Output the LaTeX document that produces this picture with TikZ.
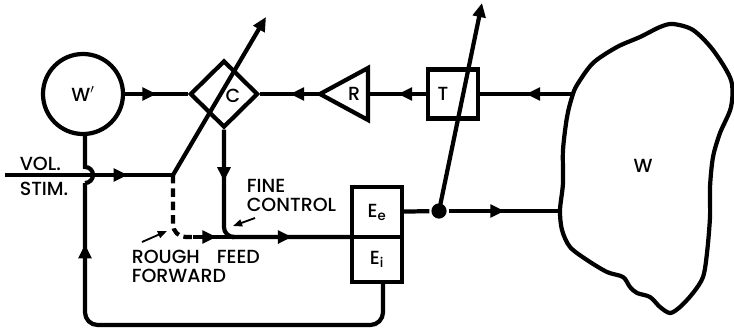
\documentclass[tikz,border=0pt]{standalone}
\usepackage{fontspec}
\setmainfont{Poppins Medium}
\usetikzlibrary{positioning,shapes.geometric,arrows.meta,decorations.markings}
\tikzset{
  midarrow/.style={postaction={decorate},decoration={markings,mark=at position #1 with {\arrow{Triangle[length=10pt,width=9pt]}}}},
  midarrow/.default=0.5,
  ebox/.style={draw,rectangle,inner sep=0pt,outer sep=0pt,minimum width=1.25cm},
  pointer/.style={line width=1.3pt,-{Triangle[length=6.5pt,width=5pt]}},
}
\begin{document}
\begin{tikzpicture}[x=0.025cm,y=-0.025cm,line width=3pt,every node/.style={font=\fontsize{13.5}{15}\selectfont}]
\useasboundingbox (0,0) rectangle (734,331);
\node[draw,circle,minimum size=2cm,inner sep=0pt] (wp) at (83,94) {W$'$};
\node[draw,diamond,minimum width=1.7cm,minimum height=1.675cm,inner sep=0pt] (c) at (224,94) {};
\node (clab) at (233,96) {C};
\coordinate (rtip) at (320,94);
\coordinate (rback) at (368,94);
\draw (rtip) -- (368,68) -- (368,120) -- cycle;
\node (rlab) at (354,94) {R};
\node[ebox,minimum height=1.225cm] (t) at (453,94) {};
\node (tlab) at (443,94) {T};
\node[ebox,minimum height=1.25cm] (ee) at (377,212) {E$_{\mathrm{e}}$};
\node[ebox,minimum height=1.125cm,below=0pt of ee] (ei) {E$_{\mathrm{i}}$};
\node[circle,fill,inner sep=0pt,minimum size=0.38cm] (dot) at (439,211) {};
\draw plot[smooth cycle] coordinates {(577,85) (593,63) (617,47) (640,37) (660,27) (673,24) (693,30) (713,50) (731,80) (731,107) (720,133) (713,157) (710,187) (710,217) (707,253) (703,277) (693,293) (680,307) (670,313) (660,307) (650,297) (637,293) (630,287) (623,277) (607,272) (587,260) (570,247) (562,230) (560,210) (563,183) (563,150) (567,117) (572,97)};
\node (w) at (643,166) {W};
\coordinate (wtop) at (574,94);
\coordinate (wbot) at (560,211);
\coordinate (vin) at (5,175);
\coordinate (fork) at (173,175);
\coordinate (cout) at (266,17);
\coordinate (tout) at (482,3);
\coordinate (rfj) at (193,237);
\coordinate (join) at (232,237);
\coordinate (fbl) at (85,325);
\coordinate (hop) at (85,183);
\foreach \a/\b in {wp/c,rtip/c,t/rback,wtop/t,dot/wbot}
  \draw[midarrow] (\a) -- (\b);
\draw (ee) -- (dot);
\draw[-{Triangle[length=10pt,width=9pt]}] (dot.center) -- (tout);
\draw[midarrow=0.73] (vin) -- (fork);
\draw[-{Triangle[length=10pt,width=9pt]}] (fork) -- (cout);
\draw[dash pattern=on 6pt off 3.5pt,rounded corners=9pt] (fork) |- (rfj);
\draw[midarrow=0.6] (rfj) -- (join);
\draw[midarrow=0.45,rounded corners=7pt] (c.south) |- (join);
\draw[midarrow] (join) -- (ee.south west);
\draw[rounded corners=9pt,midarrow=0.87] ([xshift=0.15cm]ei.south) |- (fbl) -- (hop);
\draw (hop) arc[start angle=-90,end angle=90,radius=5.7pt] -- (wp.south -| hop);
\node[anchor=west] (vol) at (13,164) {VOL.};
\node[anchor=west] (stim) at (13,189) {STIM.};
\node[anchor=west] (fine) at (240,186) {FINE};
\node[anchor=west] (ctrl) at (240,205) {CONTROL};
\node[anchor=west] (rough) at (125,257) {ROUGH};
\node[anchor=west] (feed) at (210,257) {FEED};
\node[anchor=west] (fwd) at (125,276) {FORWARD};
\coordinate (fcs) at (255,218);
\coordinate (fct) at (233,226);
\coordinate (rfs) at (142,242);
\coordinate (rft) at (167,231);
\draw[pointer] (fcs) -- (fct);
\draw[pointer] (rfs) -- (rft);
\end{tikzpicture}
\end{document}
